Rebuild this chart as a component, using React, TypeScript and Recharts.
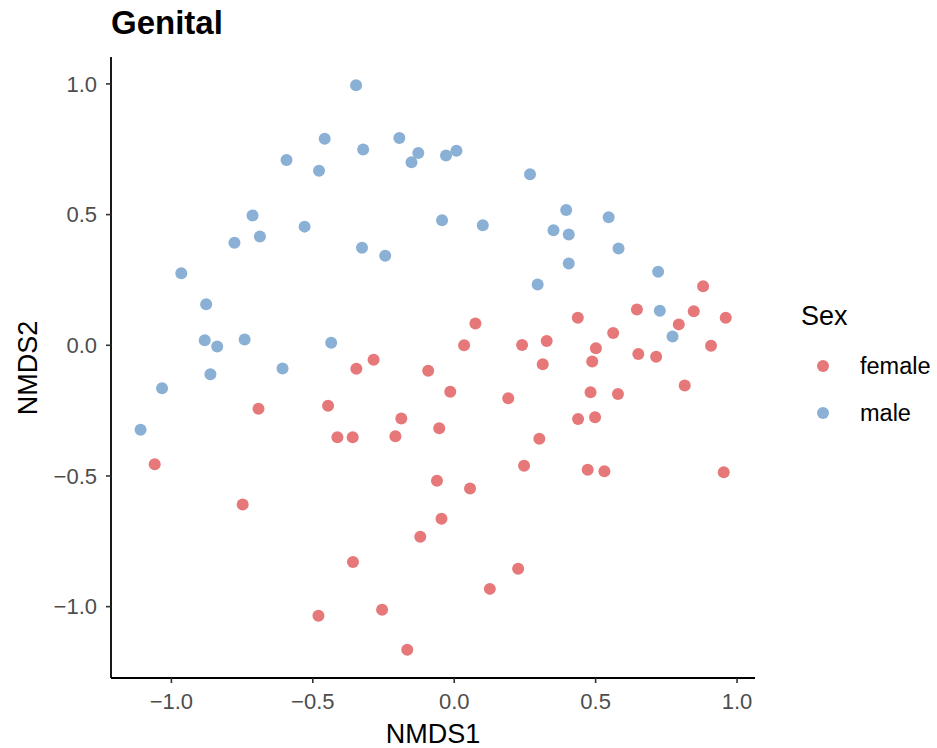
import React from "react";
import { ScatterChart, Scatter, XAxis, YAxis, Label } from "recharts";

const FONT = '"Liberation Sans", Arial, Helvetica, sans-serif';

// NMDS scores
const femaleNmds1 = [
  0.88, 0.646, 0.847, 0.96, 0.437, 0.075, 0.794, 0.562, 0.327, 0.035, 0.24, 0.501, 0.908,
  0.651, 0.714, 0.488, 0.313, -0.092, -0.285, -0.346, -0.014, 0.191, 0.482, 0.579, 0.815,
  -0.053, 0.301, 0.438, 0.498, 0.247, 0.472, 0.531, 0.953, -0.061, 0.056, -0.045, -0.692,
  -0.446, -0.187, -0.413, -0.359, -0.208, -1.059, -0.748, -0.12, -0.358, -0.255, -0.48,
  -0.166, 0.226, 0.126,
];
const femaleNmds2 = [
  0.226, 0.137, 0.13, 0.105, 0.105, 0.083, 0.08, 0.047, 0.016, 0.0, 0.001, -0.011, -0.002,
  -0.033, -0.044, -0.062, -0.073, -0.097, -0.055, -0.09, -0.178, -0.203, -0.18, -0.186, -0.154,
  -0.317, -0.358, -0.282, -0.275, -0.461, -0.476, -0.482, -0.486, -0.518, -0.548, -0.664, -0.243,
  -0.231, -0.28, -0.352, -0.352, -0.348, -0.455, -0.609, -0.733, -0.829, -1.012, -1.035,
  -1.165, -0.855, -0.932,
];
const maleNmds1 = [
  -0.347, -0.458, -0.194, -0.322, -0.127, -0.151, -0.593, -0.478, -0.713, -0.687, -0.777,
  -0.529, -0.326, -0.244, -0.965, -0.877, -0.882, -0.838, -0.741, -0.435, -0.029, 0.008, 0.268,
  -0.043, 0.101, 0.396, 0.546, 0.351, 0.405, 0.581, 0.405, 0.721, 0.295, 0.727, 0.772, -0.607,
  -0.862, -1.033, -1.109,
];
const maleNmds2 = [
  0.995, 0.79, 0.793, 0.749, 0.736, 0.7, 0.709, 0.668, 0.497, 0.416, 0.392, 0.454, 0.373, 0.343,
  0.276, 0.157, 0.019, -0.005, 0.022, 0.01, 0.726, 0.744, 0.654, 0.478, 0.459, 0.518, 0.49, 0.44,
  0.424, 0.37, 0.313, 0.281, 0.233, 0.132, 0.034, -0.089, -0.111, -0.164, -0.323,
];

const axisTicks = [-1, -0.5, 0, 0.5, 1];
const sexes = ["female", "male"];
const sexColors = ["#E6787A", "#8BB0D6"];

const female = femaleNmds1.map((x, i) => ({ x, y: femaleNmds2[i] }));
const male = maleNmds1.map((x, i) => ({ x, y: maleNmds2[i] }));

const fmt = (v: number) => (v < 0 ? "\u2212" : "") + Math.abs(v).toFixed(1);

const dot = (color: string) => (props: any) =>
  <circle cx={props.cx} cy={props.cy} r={6} fill={color} />;

const tickStyle = { fontSize: 22, fill: "#4D4D4D", fontFamily: FONT };
const axisLine = { stroke: "#000", strokeWidth: 1.8 };
const tickLine = { stroke: "#333", strokeWidth: 1.6 };

export default function App() {
  return (
    <div style={{ position: "absolute", left: 0, top: 0, width: 937, height: 748, background: "#fff", fontFamily: FONT }}>
      <div style={{ position: "absolute", left: 111, top: 5, fontSize: 33, fontWeight: 700, color: "#000", lineHeight: "36px" }}>
        Genital
      </div>
      <ScatterChart width={937} height={748} margin={{ top: 57, right: 182, bottom: 0, left: 0 }}>
        <XAxis
          type="number"
          dataKey="x"
          domain={[-1.2135, 1.0635]}
          ticks={axisTicks}
          allowDataOverflow
          tickFormatter={fmt}
          height={70}
          tickSize={5}
          tickMargin={10}
          axisLine={axisLine}
          tickLine={tickLine}
          tick={tickStyle}
        >
          <Label
            content={() => (
              <text x={433} y={743} textAnchor="middle" fontSize={27} fontFamily={FONT} fill="#000">
                NMDS1
              </text>
            )}
          />
        </XAxis>
        <YAxis
          type="number"
          dataKey="y"
          domain={[-1.273, 1.103]}
          ticks={axisTicks}
          allowDataOverflow
          tickFormatter={fmt}
          width={111}
          tickSize={5}
          tickMargin={9}
          axisLine={axisLine}
          tickLine={tickLine}
          tick={tickStyle}
        >
          <Label
            content={() => (
              <text transform="translate(37,368) rotate(-90)" textAnchor="middle" fontSize={27} fontFamily={FONT} fill="#000">
                NMDS2
              </text>
            )}
          />
        </YAxis>
        <Scatter name="female" data={female} shape={dot(sexColors[0])} isAnimationActive={false} />
        <Scatter name="male" data={male} shape={dot(sexColors[1])} isAnimationActive={false} />
      </ScatterChart>
      <svg style={{ position: "absolute", left: 780, top: 290 }} width={157} height={150}>
        <text x={21} y={35} fontSize={27} fontFamily={FONT} fill="#000">Sex</text>
        {sexes.map((s, i) => (
          <g key={s}>
            <circle cx={43} cy={76 + i * 47} r={6} fill={sexColors[i]} />
            <text x={80} y={84 + i * 47} fontSize={23.5} fontFamily={FONT} fill="#000">{s}</text>
          </g>
        ))}
      </svg>
    </div>
  );
}
